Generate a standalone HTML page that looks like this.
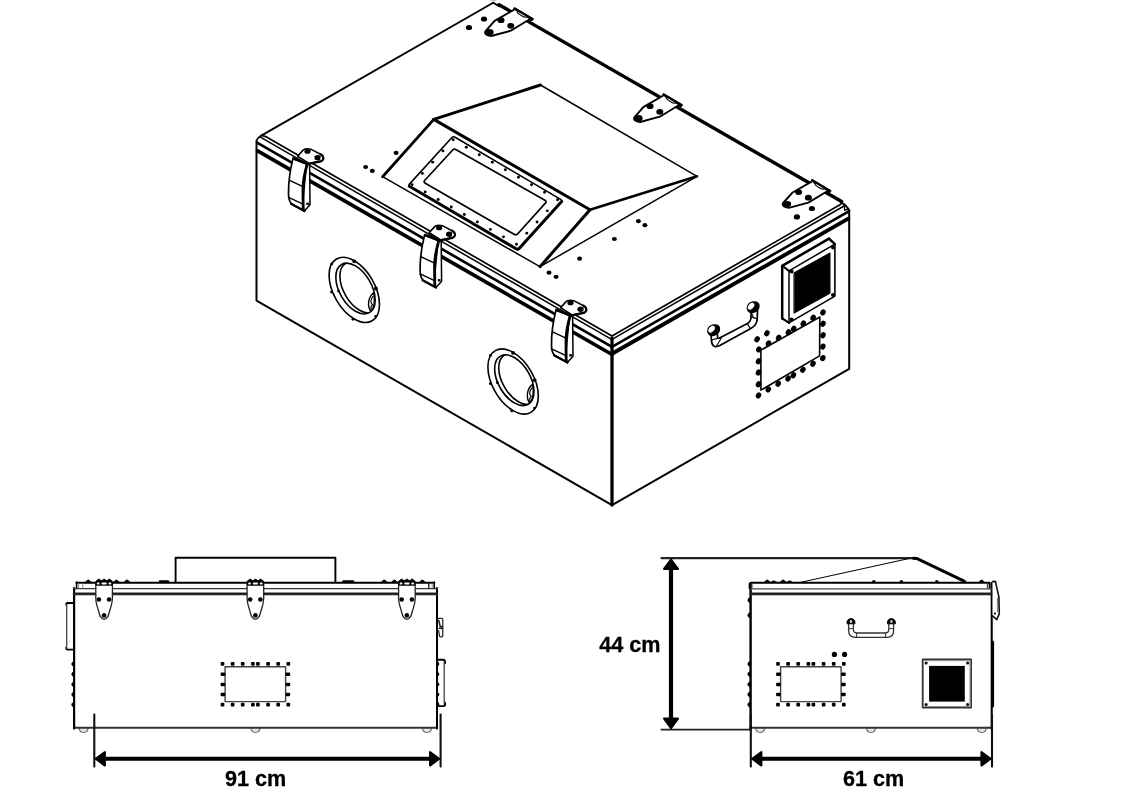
<!DOCTYPE html>
<html lang="en">
<head>
<meta charset="utf-8">
<title>Enclosure dimensions</title>
<style>
html,body{margin:0;padding:0;background:#fff;}
body{width:1134px;height:800px;overflow:hidden;position:relative;}
svg{position:absolute;left:0;top:0;display:block;}
svg text{font-family:"Liberation Sans","DejaVu Sans",sans-serif;font-weight:bold;fill:#000;stroke:#000;stroke-width:0.3px;stroke-linejoin:round;}
</style>
</head>
<body>
<svg width="1134" height="800" viewBox="0 0 1134 800" stroke-linecap="round" stroke-linejoin="round" style="filter:grayscale(1)">
<g id="iso">
<rect x="490.4" y="0" width="5.8" height="1.2" fill="#c4c4c4"/>
<path d="M256.5 141 L256.5 300.6 L612 505.1 L849.2 368.9 L849.2 210.3" fill="none" stroke="#000" stroke-width="2" />
<line x1="612" y1="338" x2="612" y2="505.1" stroke="#000" stroke-width="3.3" />
<path d="M261.7 135.4 L266.5 136.9 L612 335.9 L840.8 204.3" fill="none" stroke="#000" stroke-width="1.7" />
<path d="M261.7 135.4 L493.2 2.8" fill="none" stroke="#000" stroke-width="1.9" />
<path d="M493.2 2.8 L499.5 6.4" fill="none" stroke="#000" stroke-width="1.8" />
<path d="M499 4.7 L841.6 201.5" fill="none" stroke="#000" stroke-width="3.4" />
<line x1="259.5" y1="136.54" x2="612" y2="339.55" stroke="#000" stroke-width="1.5" />
<line x1="257.5" y1="142.92" x2="612" y2="346.95" stroke="#000" stroke-width="2.7" />
<line x1="257.6" y1="150.92" x2="612" y2="354.5" stroke="#000" stroke-width="3.7" />
<line x1="612" y1="339.45" x2="844" y2="206.02" stroke="#000" stroke-width="1.5" />
<line x1="612" y1="346.85" x2="848.3" y2="211.51" stroke="#000" stroke-width="2.6" />
<line x1="612" y1="353.8" x2="848.3" y2="218.65" stroke="#000" stroke-width="3.9" />
<path d="M256.5 141 L257.6 138.6 L262.2 134.6" fill="none" stroke="#000" stroke-width="1.6" />
<path d="M840.8 202.4 Q846.6 204.8 849.2 211" fill="none" stroke="#000" stroke-width="2.2"/>
<path d="M844.2 205.6 L844.6 210.4 L848.4 208.6" fill="none" stroke="#000" stroke-width="1.2" />
<path d="M382.6 176.7 L540 266.7 L697 176.3" fill="none" stroke="#000" stroke-width="1.5" />
<path d="M697 176.3 L540.5 85" fill="none" stroke="#000" stroke-width="1.5" />
<path d="M540.5 85 L433.8 119.4" fill="none" stroke="#000" stroke-width="2.9" />
<path d="M433.8 119.4 L590 209.7" fill="none" stroke="#000" stroke-width="3" />
<path d="M590 209.7 L697 176.3" fill="none" stroke="#000" stroke-width="2.6" />
<path d="M382.6 176.7 L433.8 119.4" fill="none" stroke="#000" stroke-width="2.8" />
<path d="M540 266.7 L590 209.7" fill="none" stroke="#000" stroke-width="3" />
<path d="M410.1 186.61 Q408.2 185.5 409.68 183.87 L451.72 137.73 Q453.2 136.1 455.1 137.22 L560.6 199.38 Q562.5 200.5 561.03 202.13" fill="none" stroke="#000" stroke-width="1.6"/>
<path d="M409.34 186.17 L516 248.79 Q517.9 249.9 519.37 248.27 L561.62 201.48" fill="none" stroke="#000" stroke-width="3.0"/>
<path d="M452.47 150.26 Q454.1 148.5 456.19 149.69 L544.91 200.21 Q547 201.4 545.39 203.18 L517.81 233.72 Q516.2 235.5 514.12 234.3 L425.28 183.2 Q423.2 182 424.83 180.24 Z" fill="none" stroke="#000" stroke-width="1.7"/>
<circle cx="453.2" cy="139.7" r="1.45"/>
<circle cx="412.1" cy="184.6" r="1.45"/>
<circle cx="466.25" cy="147.2" r="1.45"/>
<circle cx="425.15" cy="192.06" r="1.45"/>
<circle cx="479.3" cy="154.7" r="1.45"/>
<circle cx="438.2" cy="199.53" r="1.45"/>
<circle cx="492.35" cy="162.2" r="1.45"/>
<circle cx="451.25" cy="206.99" r="1.45"/>
<circle cx="505.4" cy="169.7" r="1.45"/>
<circle cx="464.3" cy="214.45" r="1.45"/>
<circle cx="518.45" cy="177.2" r="1.45"/>
<circle cx="477.35" cy="221.91" r="1.45"/>
<circle cx="531.5" cy="184.7" r="1.45"/>
<circle cx="490.4" cy="229.38" r="1.45"/>
<circle cx="544.55" cy="192.2" r="1.45"/>
<circle cx="503.45" cy="236.84" r="1.45"/>
<circle cx="557.6" cy="199.7" r="1.45"/>
<circle cx="516.5" cy="244.3" r="1.45"/>
<circle cx="442.93" cy="150.92" r="1.45"/>
<circle cx="547.33" cy="210.85" r="1.45"/>
<circle cx="432.65" cy="162.15" r="1.45"/>
<circle cx="537.05" cy="222" r="1.45"/>
<circle cx="422.38" cy="173.38" r="1.45"/>
<circle cx="526.77" cy="233.15" r="1.45"/>
<ellipse cx="396.1" cy="152.9" rx="2.5" ry="2.1"/>
<ellipse cx="365.6" cy="167" rx="2.5" ry="2.1"/>
<ellipse cx="372.3" cy="170.9" rx="2.5" ry="2.1"/>
<ellipse cx="638.4" cy="221.2" rx="2.5" ry="2.1"/>
<ellipse cx="644.9" cy="225.2" rx="2.5" ry="2.1"/>
<ellipse cx="614.4" cy="239" rx="2.5" ry="2.1"/>
<ellipse cx="579.6" cy="258.7" rx="2.5" ry="2.1"/>
<ellipse cx="549" cy="272.7" rx="2.5" ry="2.1"/>
<ellipse cx="556.1" cy="276.8" rx="2.5" ry="2.1"/>
<ellipse cx="469" cy="27.5" rx="3.1" ry="2.6"/>
<ellipse cx="484" cy="19" rx="3.1" ry="2.6"/>
<ellipse cx="811.9" cy="208.5" rx="3.1" ry="2.6"/>
<ellipse cx="796.9" cy="216.9" rx="3.1" ry="2.6"/>
<path d="M514 9.7 L494.6 20.9 L486 30.6 C483.6 33.4 486.5 35.6 491.2 36 L510.8 30.7 L528.8 19.8 L532.6 19.2 L514.6 8.4 Z" fill="#fff" stroke="#000" stroke-width="1.9"/>
<path d="M516 10.6 L529.6 18.6" fill="none" stroke="#000" stroke-width="1.2" />
<ellipse cx="521.9" cy="14.4" rx="5.2" ry="1.3" fill="#fff" stroke="#000" stroke-width="1.1" transform="rotate(30 521.9 14.4)"/>
<path d="M514.6 8.4 L532.6 19" fill="none" stroke="#000" stroke-width="2.3" />
<circle cx="531.6" cy="19.6" r="1.5"/>
<ellipse cx="501" cy="20.2" rx="3.5" ry="2.9"/>
<ellipse cx="510.8" cy="25.8" rx="3.5" ry="2.9"/>
<ellipse cx="489.7" cy="32.2" rx="3.9" ry="3.1"/>
<path d="M663 95.7 L643.6 106.9 L635 116.6 C632.6 119.4 635.5 121.6 640.2 122 L659.8 116.7 L677.8 105.8 L681.6 105.2 L663.6 94.4 Z" fill="#fff" stroke="#000" stroke-width="1.9"/>
<path d="M665 96.6 L678.6 104.6" fill="none" stroke="#000" stroke-width="1.2" />
<ellipse cx="670.9" cy="100.4" rx="5.2" ry="1.3" fill="#fff" stroke="#000" stroke-width="1.1" transform="rotate(30 670.9 100.4)"/>
<path d="M663.6 94.4 L681.6 105" fill="none" stroke="#000" stroke-width="2.3" />
<circle cx="680.6" cy="105.6" r="1.5"/>
<ellipse cx="650" cy="106.2" rx="3.5" ry="2.9"/>
<ellipse cx="659.8" cy="111.8" rx="3.5" ry="2.9"/>
<ellipse cx="638.7" cy="118.2" rx="3.9" ry="3.1"/>
<path d="M811.6 181.6 L792.2 192.8 L783.6 202.5 C781.2 205.3 784.1 207.5 788.8 207.9 L808.4 202.6 L826.4 191.7 L830.2 191.1 L812.2 180.3 Z" fill="#fff" stroke="#000" stroke-width="1.9"/>
<path d="M813.6 182.5 L827.2 190.5" fill="none" stroke="#000" stroke-width="1.2" />
<ellipse cx="819.5" cy="186.3" rx="5.2" ry="1.3" fill="#fff" stroke="#000" stroke-width="1.1" transform="rotate(30 819.5 186.3)"/>
<path d="M812.2 180.3 L830.2 190.9" fill="none" stroke="#000" stroke-width="2.3" />
<circle cx="829.2" cy="191.5" r="1.5"/>
<ellipse cx="798.6" cy="192.1" rx="3.5" ry="2.9"/>
<ellipse cx="808.4" cy="197.7" rx="3.5" ry="2.9"/>
<ellipse cx="787.3" cy="204.1" rx="3.9" ry="3.1"/>
<path d="M297.6 156.2 L302.6 150.6 C304.2 148.6 307 148 311.6 149.6 L320.6 154.2 C324 156 324.6 159.8 320.6 161.4 L309.4 163.6 Z " fill="#fff" stroke="#000" stroke-width="1.6"/>
<path d="M320.6 154.2 C324 156 324.6 159.8 320.6 161.4 L309.4 163.6 " fill="none" stroke="#000" stroke-width="2.2"/>
<ellipse cx="307.5" cy="151.4" rx="3.1" ry="2.3"/>
<ellipse cx="317.7" cy="157.7" rx="3.3" ry="2.7"/>
<ellipse cx="321.2" cy="158.2" rx="0.7" ry="1.5" fill="#fff"/>
<path d="M306.6 163.6 L309.6 164.6 L310 204.8 L304.4 211 L302.4 206 Z " fill="#fff" stroke="#000" stroke-width="1.5"/>
<path d="M293 158.6 L306.9 164.2 C304.4 174 302.9 182 303 190 L303.2 208.2 L304.4 211 L291.6 204 C289 201 288.5 198 288.5 194 C288.4 182 290 170 293 158.6 Z " fill="#fff" stroke="#000" stroke-width="1.7"/>
<path d="M307.2 164.2 C304.4 174 302.9 182 303 190 L303.2 208.2 " fill="none" stroke="#000" stroke-width="2.8"/>
<path d="M293.4 158.4 L308.6 164.2 " fill="none" stroke="#000" stroke-width="2.6"/>
<path d="M289.6 180.3 L302.4 186.4 " fill="none" stroke="#000" stroke-width="1.4"/>
<path d="M288.6 197.4 L302.4 203.8 " fill="none" stroke="#000" stroke-width="1.4"/>
<path d="M291 203.8 L304.4 211 " fill="none" stroke="#000" stroke-width="2.2"/>
<rect x="306.3" y="202.6" width="2.6" height="2.4"/>
<path d="M429.2 232.7 L434.2 227.1 C435.8 225.1 438.6 224.5 443.2 226.1 L452.2 230.7 C455.6 232.5 456.2 236.3 452.2 237.9 L441 240.1 Z " fill="#fff" stroke="#000" stroke-width="1.6"/>
<path d="M452.2 230.7 C455.6 232.5 456.2 236.3 452.2 237.9 L441 240.1 " fill="none" stroke="#000" stroke-width="2.2"/>
<ellipse cx="439.1" cy="227.9" rx="3.1" ry="2.3"/>
<ellipse cx="449.3" cy="234.2" rx="3.3" ry="2.7"/>
<ellipse cx="452.8" cy="234.7" rx="0.7" ry="1.5" fill="#fff"/>
<path d="M438.2 240.1 L441.2 241.1 L441.6 281.3 L436 287.5 L434 282.5 Z " fill="#fff" stroke="#000" stroke-width="1.5"/>
<path d="M424.6 235.1 L438.5 240.7 C436 250.5 434.5 258.5 434.6 266.5 L434.8 284.7 L436 287.5 L423.2 280.5 C420.6 277.5 420.1 274.5 420.1 270.5 C420 258.5 421.6 246.5 424.6 235.1 Z " fill="#fff" stroke="#000" stroke-width="1.7"/>
<path d="M438.8 240.7 C436 250.5 434.5 258.5 434.6 266.5 L434.8 284.7 " fill="none" stroke="#000" stroke-width="2.8"/>
<path d="M425 234.9 L440.2 240.7 " fill="none" stroke="#000" stroke-width="2.6"/>
<path d="M421.2 256.8 L434 262.9 " fill="none" stroke="#000" stroke-width="1.4"/>
<path d="M420.2 273.9 L434 280.3 " fill="none" stroke="#000" stroke-width="1.4"/>
<path d="M422.6 280.3 L436 287.5 " fill="none" stroke="#000" stroke-width="2.2"/>
<rect x="437.9" y="279.1" width="2.6" height="2.4"/>
<path d="M560.6 307.7 L565.6 302.1 C567.2 300.1 570 299.5 574.6 301.1 L583.6 305.7 C587 307.5 587.6 311.3 583.6 312.9 L572.4 315.1 Z " fill="#fff" stroke="#000" stroke-width="1.6"/>
<path d="M583.6 305.7 C587 307.5 587.6 311.3 583.6 312.9 L572.4 315.1 " fill="none" stroke="#000" stroke-width="2.2"/>
<ellipse cx="570.5" cy="302.9" rx="3.1" ry="2.3"/>
<ellipse cx="580.7" cy="309.2" rx="3.3" ry="2.7"/>
<ellipse cx="584.2" cy="309.7" rx="0.7" ry="1.5" fill="#fff"/>
<path d="M569.6 315.1 L572.6 316.1 L573 356.3 L567.4 362.5 L565.4 357.5 Z " fill="#fff" stroke="#000" stroke-width="1.5"/>
<path d="M556 310.1 L569.9 315.7 C567.4 325.5 565.9 333.5 566 341.5 L566.2 359.7 L567.4 362.5 L554.6 355.5 C552 352.5 551.5 349.5 551.5 345.5 C551.4 333.5 553 321.5 556 310.1 Z " fill="#fff" stroke="#000" stroke-width="1.7"/>
<path d="M570.2 315.7 C567.4 325.5 565.9 333.5 566 341.5 L566.2 359.7 " fill="none" stroke="#000" stroke-width="2.8"/>
<path d="M556.4 309.9 L571.6 315.7 " fill="none" stroke="#000" stroke-width="2.6"/>
<path d="M552.6 331.8 L565.4 337.9 " fill="none" stroke="#000" stroke-width="1.4"/>
<path d="M551.6 348.9 L565.4 355.3 " fill="none" stroke="#000" stroke-width="1.4"/>
<path d="M554 355.3 L567.4 362.5 " fill="none" stroke="#000" stroke-width="2.2"/>
<rect x="569.3" y="354.1" width="2.6" height="2.4"/>
<ellipse cx="354.3" cy="289.9" rx="35.64" ry="20.58" transform="rotate(60 354.3 289.9)" fill="none" stroke="#000" stroke-width="1.6" />
<ellipse cx="355.5" cy="288.6" rx="27.8" ry="16.05" transform="rotate(60 355.5 288.6)" fill="none" stroke="#000" stroke-width="1.6" />
<clipPath id="pc354"><ellipse cx="355.5" cy="288.6" rx="27.8" ry="16.05" transform="rotate(60 355.5 288.6)"/></clipPath>
<g clip-path="url(#pc354)"><ellipse cx="359.6" cy="287.5" rx="27.8" ry="16.05" transform="rotate(60 359.6 287.5)" fill="none" stroke="#000" stroke-width="1.6" /></g>
<path d="M373.7 292.8 C367.7 297.3 367.3 306.3 370.7 311.3 C374.3 308.3 375.3 300.3 373.7 292.8 Z" fill="none" stroke="#000" stroke-width="1.4"/>
<path d="M373.1 296.3 C370.5 299.3 370.1 302.8 372.5 304.8 C370.5 306.3 370.7 308.3 371.3 310.3" fill="none" stroke="#000" stroke-width="1.2"/>
<circle cx="354.3" cy="261.3" r="1.9"/>
<circle cx="375.9" cy="288.5" r="1.9"/>
<circle cx="331.7" cy="263.9" r="1.4"/>
<circle cx="331.5" cy="292.1" r="1.4"/>
<circle cx="338.5" cy="291.1" r="1.4"/>
<circle cx="375.7" cy="316.5" r="1.4"/>
<circle cx="352.9" cy="319.3" r="1.4"/>
<ellipse cx="513.1" cy="381.5" rx="35.64" ry="20.58" transform="rotate(60 513.1 381.5)" fill="none" stroke="#000" stroke-width="1.6" />
<ellipse cx="514.3" cy="380.2" rx="27.8" ry="16.05" transform="rotate(60 514.3 380.2)" fill="none" stroke="#000" stroke-width="1.6" />
<clipPath id="pc513"><ellipse cx="514.3" cy="380.2" rx="27.8" ry="16.05" transform="rotate(60 514.3 380.2)"/></clipPath>
<g clip-path="url(#pc513)"><ellipse cx="518.4" cy="379.1" rx="27.8" ry="16.05" transform="rotate(60 518.4 379.1)" fill="none" stroke="#000" stroke-width="1.6" /></g>
<path d="M532.5 384.4 C526.5 388.9 526.1 397.9 529.5 402.9 C533.1 399.9 534.1 391.9 532.5 384.4 Z" fill="none" stroke="#000" stroke-width="1.4"/>
<path d="M531.9 387.9 C529.3 390.9 528.9 394.4 531.3 396.4 C529.3 397.9 529.5 399.9 530.1 401.9" fill="none" stroke="#000" stroke-width="1.2"/>
<circle cx="513.1" cy="352.9" r="1.9"/>
<circle cx="534.7" cy="380.1" r="1.9"/>
<circle cx="490.5" cy="355.5" r="1.4"/>
<circle cx="490.3" cy="383.7" r="1.4"/>
<circle cx="497.3" cy="382.7" r="1.4"/>
<circle cx="534.5" cy="408.1" r="1.4"/>
<circle cx="511.7" cy="410.9" r="1.4"/>
<path d="M711.0 334 L711.6 341.6 C712.0 346.2 715.6 347.8 719.8 345.6 L750.8 328.6 C755.0 326.2 757.0 323.2 757.2 319 L757.6 310 L751.2 310 L751.0 317.2 C751.0 320.2 750.0 322.0 747.4 323.4 L719.6 338.0 C718.2 338.8 717.6 338.2 717.6 336.6 L717.4 334 Z" fill="#fff" stroke="#000" stroke-width="1.7"/>
<path d="M712 340 L717.4 338.4 M716.6 345.8 L721.4 338 M747.2 323.6 L750.2 328.4 M751 317 L756.8 318.6 M751 311.6 L753.6 317.6" fill="none" stroke="#000" stroke-width="1.1"/>
<ellipse cx="713.8" cy="330.2" rx="6.2" ry="4.8" transform="rotate(-35 713.8 330.2)" fill="#000" stroke="#000" stroke-width="1.4"/>
<ellipse cx="711.6" cy="329.2" rx="4.6" ry="3.2" transform="rotate(-50 711.6 329.2)" fill="#fff" stroke="#000" stroke-width="1.2"/>
<ellipse cx="753.3" cy="307.2" rx="6.2" ry="4.8" transform="rotate(-35 753.3 307.2)" fill="#000" stroke="#000" stroke-width="1.4"/>
<ellipse cx="751.1" cy="306.2" rx="4.6" ry="3.2" transform="rotate(-50 751.1 306.2)" fill="#fff" stroke="#000" stroke-width="1.2"/>
<path d="M782.2 265.8 L829 238.6 L834.9 244.1 L834.9 296.1 L789 322.9 L782.2 318.4 Z" fill="#fff" stroke="#000" stroke-width="1.6" />
<path d="M782.2 318.4 L782.2 265.8 L829 238.6" fill="none" stroke="#000" stroke-width="2.5" />
<path d="M829 238.6 L834.9 244.1" fill="none" stroke="#000" stroke-width="2.2" />
<path d="M789 322.9 L789 270.9 L834.9 244.1" fill="none" stroke="#000" stroke-width="1.5" />
<path d="M782.2 265.8 L789 270.9" fill="none" stroke="#000" stroke-width="2" />
<path d="M782.2 318.4 L789 322.9" fill="none" stroke="#000" stroke-width="2" />
<path d="M794.3 272.7 L830 252.9 L830 293.3 L794.3 313 Z" fill="#000" stroke="#000" stroke-width="1" />
<circle cx="791.6" cy="271.6" r="2"/>
<circle cx="833" cy="247.6" r="2"/>
<circle cx="833" cy="295" r="2"/>
<circle cx="791.6" cy="319.6" r="2"/>
<path d="M760.9 350.1 L819.8 317 L819.6 355.9 L760.9 390.1 Z" fill="none" stroke="#000" stroke-width="1.6" />
<ellipse cx="758.8" cy="349.4" rx="3.2" ry="2.6" transform="rotate(-60 758.8 349.4)"/>
<ellipse cx="768.5" cy="343.4" rx="3.2" ry="2.6" transform="rotate(-60 768.5 343.4)"/>
<ellipse cx="778.6" cy="337.8" rx="3.2" ry="2.6" transform="rotate(-60 778.6 337.8)"/>
<ellipse cx="788.4" cy="332.2" rx="3.2" ry="2.6" transform="rotate(-60 788.4 332.2)"/>
<ellipse cx="793.7" cy="328.8" rx="3.2" ry="2.6" transform="rotate(-60 793.7 328.8)"/>
<ellipse cx="803.3" cy="323.5" rx="3.2" ry="2.6" transform="rotate(-60 803.3 323.5)"/>
<ellipse cx="813.1" cy="317.7" rx="3.2" ry="2.6" transform="rotate(-60 813.1 317.7)"/>
<ellipse cx="823" cy="312.4" rx="3.2" ry="2.6" transform="rotate(-60 823 312.4)"/>
<ellipse cx="757.1" cy="339.2" rx="3.2" ry="2.6" transform="rotate(-60 757.1 339.2)"/>
<ellipse cx="766.9" cy="333.2" rx="3.2" ry="2.6" transform="rotate(-60 766.9 333.2)"/>
<ellipse cx="823" cy="323.7" rx="3.2" ry="2.6" transform="rotate(-60 823 323.7)"/>
<ellipse cx="823" cy="335.3" rx="3.2" ry="2.6" transform="rotate(-60 823 335.3)"/>
<ellipse cx="822.8" cy="346.6" rx="3.2" ry="2.6" transform="rotate(-60 822.8 346.6)"/>
<ellipse cx="822.8" cy="358.1" rx="3.2" ry="2.6" transform="rotate(-60 822.8 358.1)"/>
<ellipse cx="758.5" cy="361.2" rx="3.2" ry="2.6" transform="rotate(-60 758.5 361.2)"/>
<ellipse cx="758.5" cy="372.5" rx="3.2" ry="2.6" transform="rotate(-60 758.5 372.5)"/>
<ellipse cx="758.5" cy="384.2" rx="3.2" ry="2.6" transform="rotate(-60 758.5 384.2)"/>
<ellipse cx="758.5" cy="395.4" rx="3.2" ry="2.6" transform="rotate(-60 758.5 395.4)"/>
<ellipse cx="768.3" cy="389.4" rx="3.2" ry="2.6" transform="rotate(-60 768.3 389.4)"/>
<ellipse cx="778.2" cy="383.8" rx="3.2" ry="2.6" transform="rotate(-60 778.2 383.8)"/>
<ellipse cx="788.1" cy="378.5" rx="3.2" ry="2.6" transform="rotate(-60 788.1 378.5)"/>
<ellipse cx="793.4" cy="375.2" rx="3.2" ry="2.6" transform="rotate(-60 793.4 375.2)"/>
<ellipse cx="802.9" cy="369.7" rx="3.2" ry="2.6" transform="rotate(-60 802.9 369.7)"/>
<ellipse cx="813" cy="363.7" rx="3.2" ry="2.6" transform="rotate(-60 813 363.7)"/>
</g>
<g id="front">
<path d="M79 727.8 C79.4 734 87.8 734 88.2 727.8" fill="#e6e6e6" stroke="#666" stroke-width="1.1"/>
<path d="M250.9 727.8 C251.3 734 259.7 734 260.1 727.8" fill="#e6e6e6" stroke="#666" stroke-width="1.1"/>
<path d="M422.4 727.8 C422.8 734 431.2 734 431.6 727.8" fill="#e6e6e6" stroke="#666" stroke-width="1.1"/>
<line x1="74" y1="727.8" x2="437.2" y2="727.8" stroke="#333" stroke-width="1.9"/>
<line x1="74.1" y1="588" x2="74.1" y2="728.6" stroke="#000" stroke-width="2.2"/>
<line x1="437" y1="588" x2="437" y2="728.6" stroke="#000" stroke-width="2"/>
<line x1="76.3" y1="582.7" x2="434.4" y2="582.7" stroke="#000" stroke-width="1.9"/>
<line x1="76.6" y1="582" x2="76.6" y2="588.6" stroke="#000" stroke-width="1.6"/>
<line x1="434.2" y1="582" x2="434.2" y2="588.6" stroke="#000" stroke-width="1.6"/>
<line x1="73.4" y1="588.7" x2="437.6" y2="588.7" stroke="#333" stroke-width="1.2"/>
<line x1="74" y1="593.9" x2="437" y2="593.9" stroke="#222" stroke-width="2.7"/>
<line x1="78.6" y1="584" x2="78.6" y2="588" stroke="#888" stroke-width="0.9"/>
<line x1="82.8" y1="584" x2="82.8" y2="588" stroke="#888" stroke-width="0.9"/>
<line x1="428.8" y1="584" x2="428.8" y2="588" stroke="#222" stroke-width="1.4"/>
<line x1="432.2" y1="584" x2="432.2" y2="588" stroke="#888" stroke-width="0.9"/>
<path d="M175.6 582 L175.6 557.8 L335.4 557.8 L335.4 582" fill="none" stroke="#000" stroke-width="1.9" />
<path d="M85.6 581.9 L87.6 580.1 L88.8 580.1 L90.8 581.9 Z" stroke="#000" stroke-width="0.8"/>
<path d="M113.8 581.9 L115.8 580.1 L117 580.1 L119 581.9 Z" stroke="#000" stroke-width="0.8"/>
<path d="M124.4 581.9 L126.4 580.1 L127.6 580.1 L129.6 581.9 Z" stroke="#000" stroke-width="0.8"/>
<path d="M381.6 581.9 L383.6 580.1 L384.8 580.1 L386.8 581.9 Z" stroke="#000" stroke-width="0.8"/>
<path d="M391.8 581.9 L393.8 580.1 L395 580.1 L397 581.9 Z" stroke="#000" stroke-width="0.8"/>
<path d="M419.8 581.9 L421.8 580.1 L423 580.1 L425 581.9 Z" stroke="#000" stroke-width="0.8"/>
<line x1="160" y1="581.4" x2="168" y2="581.4" stroke="#000" stroke-width="2.4"/>
<line x1="343.5" y1="581.4" x2="353" y2="581.4" stroke="#000" stroke-width="2.4"/>
<path d="M95.8 582 L95.8 598 Q95.9 602 96.9 605.4 L100.1 616.2 Q104.1 622.6 108.1 616.2 L111.3 605.4 Q112.3 602 112.4 598 L112.4 582 Z" fill="#fff" stroke="#222" stroke-width="1.3"/>
<rect x="95.5" y="580.6" width="17.2" height="5.2" rx="1.6" fill="#000"/>
<rect x="96.9" y="582.4" width="2.6" height="2.2" rx="0.8" fill="#fff"/>
<rect x="101.5" y="582.4" width="5.2" height="2.2" rx="0.8" fill="#fff"/>
<rect x="108.5" y="582.4" width="2.8" height="2.2" rx="0.8" fill="#fff"/>
<path d="M96.3 581 L98.3 579.2 L99.5 579.2 L101.5 581 Z" stroke="#000" stroke-width="0.8"/>
<path d="M101.5 581 L103.5 579.2 L104.7 579.2 L106.7 581 Z" stroke="#000" stroke-width="0.8"/>
<path d="M106.7 581 L108.7 579.2 L109.9 579.2 L111.9 581 Z" stroke="#000" stroke-width="0.8"/>
<circle cx="98.9" cy="599.5" r="2.3"/>
<circle cx="109.1" cy="599.5" r="2.3"/>
<circle cx="104.1" cy="615.4" r="2.3"/>
<path d="M247.1 582 L247.1 598 Q247.2 602 248.2 605.4 L251.4 616.2 Q255.4 622.6 259.4 616.2 L262.6 605.4 Q263.6 602 263.7 598 L263.7 582 Z" fill="#fff" stroke="#222" stroke-width="1.3"/>
<rect x="246.8" y="580.6" width="17.2" height="5.2" rx="1.6" fill="#000"/>
<rect x="248.2" y="582.4" width="2.6" height="2.2" rx="0.8" fill="#fff"/>
<rect x="252.8" y="582.4" width="5.2" height="2.2" rx="0.8" fill="#fff"/>
<rect x="259.8" y="582.4" width="2.8" height="2.2" rx="0.8" fill="#fff"/>
<path d="M247.6 581 L249.6 579.2 L250.8 579.2 L252.8 581 Z" stroke="#000" stroke-width="0.8"/>
<path d="M252.8 581 L254.8 579.2 L256 579.2 L258 581 Z" stroke="#000" stroke-width="0.8"/>
<path d="M258 581 L260 579.2 L261.2 579.2 L263.2 581 Z" stroke="#000" stroke-width="0.8"/>
<circle cx="250.2" cy="599.5" r="2.3"/>
<circle cx="260.4" cy="599.5" r="2.3"/>
<circle cx="255.4" cy="615.4" r="2.3"/>
<path d="M398.6 582 L398.6 598 Q398.7 602 399.7 605.4 L402.9 616.2 Q406.9 622.6 410.9 616.2 L414.1 605.4 Q415.1 602 415.2 598 L415.2 582 Z" fill="#fff" stroke="#222" stroke-width="1.3"/>
<rect x="398.3" y="580.6" width="17.2" height="5.2" rx="1.6" fill="#000"/>
<rect x="399.7" y="582.4" width="2.6" height="2.2" rx="0.8" fill="#fff"/>
<rect x="404.3" y="582.4" width="5.2" height="2.2" rx="0.8" fill="#fff"/>
<rect x="411.3" y="582.4" width="2.8" height="2.2" rx="0.8" fill="#fff"/>
<path d="M399.1 581 L401.1 579.2 L402.3 579.2 L404.3 581 Z" stroke="#000" stroke-width="0.8"/>
<path d="M404.3 581 L406.3 579.2 L407.5 579.2 L409.5 581 Z" stroke="#000" stroke-width="0.8"/>
<path d="M409.5 581 L411.5 579.2 L412.7 579.2 L414.7 581 Z" stroke="#000" stroke-width="0.8"/>
<circle cx="401.7" cy="599.5" r="2.3"/>
<circle cx="411.9" cy="599.5" r="2.3"/>
<circle cx="406.9" cy="615.4" r="2.3"/>
<rect x="225.1" y="666.8" width="60.5" height="34.8" fill="none" stroke="#444" stroke-width="1.4"/>
<rect x="220.65" y="662.05" width="3.7" height="3.7" rx="1.0"/>
<rect x="220.65" y="702.85" width="3.7" height="3.7" rx="1.0"/>
<rect x="230.75" y="662.05" width="3.7" height="3.7" rx="1.0"/>
<rect x="230.75" y="702.85" width="3.7" height="3.7" rx="1.0"/>
<rect x="240.85" y="662.05" width="3.7" height="3.7" rx="1.0"/>
<rect x="240.85" y="702.85" width="3.7" height="3.7" rx="1.0"/>
<rect x="251.05" y="662.05" width="3.7" height="3.7" rx="1.0"/>
<rect x="251.05" y="702.85" width="3.7" height="3.7" rx="1.0"/>
<rect x="256.05" y="662.05" width="3.7" height="3.7" rx="1.0"/>
<rect x="256.05" y="702.85" width="3.7" height="3.7" rx="1.0"/>
<rect x="266.25" y="662.05" width="3.7" height="3.7" rx="1.0"/>
<rect x="266.25" y="702.85" width="3.7" height="3.7" rx="1.0"/>
<rect x="276.35" y="662.05" width="3.7" height="3.7" rx="1.0"/>
<rect x="276.35" y="702.85" width="3.7" height="3.7" rx="1.0"/>
<rect x="286.45" y="662.05" width="3.7" height="3.7" rx="1.0"/>
<rect x="286.45" y="702.85" width="3.7" height="3.7" rx="1.0"/>
<rect x="220.6" y="672.55" width="4.6" height="3.5" rx="1.0"/>
<rect x="285.6" y="672.55" width="4.6" height="3.5" rx="1.0"/>
<rect x="220.6" y="682.65" width="4.6" height="3.5" rx="1.0"/>
<rect x="285.6" y="682.65" width="4.6" height="3.5" rx="1.0"/>
<rect x="220.6" y="692.75" width="4.6" height="3.5" rx="1.0"/>
<rect x="285.6" y="692.75" width="4.6" height="3.5" rx="1.0"/>
<path d="M73.4 603 L67.4 603 Q66.2 603 66.2 604.8 M66.2 647.8 Q66.2 649.6 67.6 649.6 L73.4 649.6" fill="none" stroke="#000" stroke-width="1.9"/>
<line x1="66.7" y1="604.5" x2="66.7" y2="648" stroke="#444" stroke-width="1.3"/>
<path d="M73.6 661.8 C71.2 662 71.2 666 73.6 666.2 Z" stroke="#000" stroke-width="1"/>
<path d="M73.6 672 C71.2 672.2 71.2 676.2 73.6 676.4 Z" stroke="#000" stroke-width="1"/>
<path d="M73.6 682.2 C71.2 682.4 71.2 686.4 73.6 686.6 Z" stroke="#000" stroke-width="1"/>
<path d="M73.6 692.3 C71.2 692.5 71.2 696.5 73.6 696.7 Z" stroke="#000" stroke-width="1"/>
<path d="M73.6 702.4 C71.2 702.6 71.2 706.6 73.6 706.8 Z" stroke="#000" stroke-width="1"/>
<path d="M438 618.4 L441.6 618.4 Q442.8 618.4 442.8 620 L442.8 635 Q442.8 637 441 637 L439.6 636.4 L438.6 630.6" fill="#fff" stroke="#222" stroke-width="1.2"/>
<path d="M438.8 620.6 L440.2 626.4 L442.4 626.6 M439.2 628.2 L442.4 628.4" fill="none" stroke="#222" stroke-width="1.6"/>
<path d="M437.6 659.7 L443.6 659.7 Q445.6 660.6 444.9 663.4 M444.9 702.4 Q445.8 705.4 443.6 706.1 L437.6 706.1" fill="none" stroke="#000" stroke-width="1.9"/>
<line x1="444.2" y1="662.5" x2="444.2" y2="703.5" stroke="#444" stroke-width="1.3"/>
<path d="M437.8 662 Q440.4 664 437.8 666 Z" stroke="#000" stroke-width="1"/>
<path d="M437.8 672.2 Q440.4 674.2 437.8 676.2 Z" stroke="#000" stroke-width="1"/>
<path d="M437.8 682.4 Q440.4 684.4 437.8 686.4 Z" stroke="#000" stroke-width="1"/>
<path d="M437.8 692.5 Q440.4 694.5 437.8 696.5 Z" stroke="#000" stroke-width="1"/>
<path d="M437.8 702.2 Q440.4 704.2 437.8 706.2 Z" stroke="#000" stroke-width="1"/>
<line x1="94.3" y1="714.6" x2="94.3" y2="766.6" stroke="#111" stroke-width="2.1"/>
<line x1="440.6" y1="714.6" x2="440.6" y2="766.6" stroke="#111" stroke-width="2.1"/>
<line x1="102.3" y1="758.8" x2="432.6" y2="758.8" stroke="#000" stroke-width="4"/>
<path d="M95.6 758.8 L104.9 752 L104.9 765.6 Z" stroke="#000" stroke-width="2" stroke-linejoin="round"/>
<path d="M439.3 758.8 L430 752 L430 765.6 Z" stroke="#000" stroke-width="2" stroke-linejoin="round"/>
<text x="255.6" y="785.9" font-size="21.6" text-anchor="middle">91 cm</text>
</g>
<g id="side">
<path d="M755.6 727.8 C756 734 764.4 734 764.8 727.8" fill="#e6e6e6" stroke="#666" stroke-width="1.1"/>
<path d="M866.4 727.8 C866.8 734 875.2 734 875.6 727.8" fill="#e6e6e6" stroke="#666" stroke-width="1.1"/>
<path d="M977.2 727.8 C977.6 734 986 734 986.4 727.8" fill="#e6e6e6" stroke="#666" stroke-width="1.1"/>
<line x1="661.4" y1="558.1" x2="913" y2="558.1" stroke="#222" stroke-width="2.1"/>
<line x1="661.4" y1="729.6" x2="751" y2="729.6" stroke="#222" stroke-width="1.9"/>
<path d="M800.4 582.4 L909.6 558.4" fill="none" stroke="#000" stroke-width="1" />
<path d="M913.4 558.2 L916.6 558.4 L963.6 580.8" fill="none" stroke="#000" stroke-width="3" />
<line x1="750" y1="727.8" x2="992" y2="727.8" stroke="#333" stroke-width="1.9"/>
<line x1="750.6" y1="584" x2="750.6" y2="729" stroke="#000" stroke-width="2.4"/>
<line x1="991.7" y1="583" x2="991.7" y2="729" stroke="#000" stroke-width="2.1"/>
<path d="M749.6 588.4 L749.6 584.4 Q749.6 582.7 751.6 582.7 L989.6 582.7 L989.6 588.4" fill="none" stroke="#000" stroke-width="1.9"/>
<line x1="750" y1="588.8" x2="992.4" y2="588.8" stroke="#444" stroke-width="1.2"/>
<line x1="750.6" y1="593.9" x2="991.6" y2="593.9" stroke="#222" stroke-width="2.7"/>
<line x1="752.6" y1="584" x2="752.6" y2="588" stroke="#888" stroke-width="0.9"/>
<line x1="987.4" y1="584" x2="987.4" y2="588" stroke="#444" stroke-width="1.2"/>
<path d="M764.6 581.9 L766.6 580.1 L767.8 580.1 L769.8 581.9 Z" stroke="#000" stroke-width="0.8"/>
<path d="M780.5 581.9 L782.5 580.1 L783.7 580.1 L785.7 581.9 Z" stroke="#000" stroke-width="0.8"/>
<path d="M771.5 581.9 L773.2 580.9 L774.4 580.9 L776.1 581.9 Z" stroke="#000" stroke-width="0.8"/>
<path d="M787.4 581.9 L789.1 580.9 L790.3 580.9 L792 581.9 Z" stroke="#000" stroke-width="0.8"/>
<path d="M979 581.9 L981 580.1 L982.2 580.1 L984.2 581.9 Z" stroke="#000" stroke-width="0.8"/>
<circle cx="873.8" cy="581.6" r="1.7"/>
<circle cx="901.4" cy="581.6" r="1.7"/>
<circle cx="936.8" cy="581.6" r="1.7"/>
<circle cx="964.5" cy="581.6" r="1.7"/>
<path d="M750 597.8 C747.2 598 747.2 602.4 750 602.6 Z" stroke="#000" stroke-width="1"/>
<path d="M750 612.9 C747.2 613.1 747.2 617.5 750 617.7 Z" stroke="#000" stroke-width="1"/>
<path d="M750 661.6 C747.2 661.8 747.2 666.2 750 666.4 Z" stroke="#000" stroke-width="1"/>
<path d="M750 671.8 C747.2 672 747.2 676.4 750 676.6 Z" stroke="#000" stroke-width="1"/>
<path d="M750 682 C747.2 682.2 747.2 686.6 750 686.8 Z" stroke="#000" stroke-width="1"/>
<path d="M750 692.1 C747.2 692.3 747.2 696.7 750 696.9 Z" stroke="#000" stroke-width="1"/>
<path d="M750 702.2 C747.2 702.4 747.2 706.8 750 707 Z" stroke="#000" stroke-width="1"/>
<path d="M992.6 581.6 L995.4 581.4 L998.9 597.2 L999.3 613.8 L996.7 619.6 L992.6 615.8" fill="#fff" stroke="#111" stroke-width="1.6"/>
<line x1="997.4" y1="598" x2="997.4" y2="612" stroke="#666" stroke-width="0.9"/>
<circle cx="994.9" cy="613.6" r="1.1"/>
<line x1="992.6" y1="642" x2="992.6" y2="706" stroke="#000" stroke-width="3"/>
<path d="M848.6 623 L848.6 630.6 Q848.6 637.4 855.4 637.4 L887.2 637.4 Q893.6 637.4 893.6 630.6 L893.6 623 L888.8 623 L888.8 629.6 Q888.8 633 885.4 633 L856.6 633 Q853.4 633 853.4 629.6 L853.4 623 Z" fill="#fff" stroke="#333" stroke-width="1.3"/>
<path d="M856.6 633 L856.6 637.4 M885.6 633 L885.6 637.4 M848.6 628.6 L853.4 628.6 M888.8 628.6 L893.6 628.6" fill="none" stroke="#333" stroke-width="1"/>
<path d="M847 623.4 Q846.6 619 851 618.6 Q855.4 619 855 623.4 Z" stroke="#000" stroke-width="1"/>
<rect x="850.1" y="620.2" width="1.8" height="2.6" fill="#fff"/>
<path d="M887.4 623.4 Q887 619 891.4 618.6 Q895.8 619 895.4 623.4 Z" stroke="#000" stroke-width="1"/>
<rect x="890.5" y="620.2" width="1.8" height="2.6" fill="#fff"/>
<circle cx="834.4" cy="654.4" r="2.6"/>
<circle cx="844.6" cy="654.4" r="2.6"/>
<rect x="780.6" y="666.8" width="60.5" height="34.8" fill="none" stroke="#444" stroke-width="1.4"/>
<rect x="776.15" y="662.05" width="3.7" height="3.7" rx="1.0"/>
<rect x="776.15" y="702.85" width="3.7" height="3.7" rx="1.0"/>
<rect x="786.25" y="662.05" width="3.7" height="3.7" rx="1.0"/>
<rect x="786.25" y="702.85" width="3.7" height="3.7" rx="1.0"/>
<rect x="796.35" y="662.05" width="3.7" height="3.7" rx="1.0"/>
<rect x="796.35" y="702.85" width="3.7" height="3.7" rx="1.0"/>
<rect x="806.55" y="662.05" width="3.7" height="3.7" rx="1.0"/>
<rect x="806.55" y="702.85" width="3.7" height="3.7" rx="1.0"/>
<rect x="811.55" y="662.05" width="3.7" height="3.7" rx="1.0"/>
<rect x="811.55" y="702.85" width="3.7" height="3.7" rx="1.0"/>
<rect x="821.75" y="662.05" width="3.7" height="3.7" rx="1.0"/>
<rect x="821.75" y="702.85" width="3.7" height="3.7" rx="1.0"/>
<rect x="831.85" y="662.05" width="3.7" height="3.7" rx="1.0"/>
<rect x="831.85" y="702.85" width="3.7" height="3.7" rx="1.0"/>
<rect x="841.95" y="662.05" width="3.7" height="3.7" rx="1.0"/>
<rect x="841.95" y="702.85" width="3.7" height="3.7" rx="1.0"/>
<rect x="776.1" y="672.55" width="4.6" height="3.5" rx="1.0"/>
<rect x="841.1" y="672.55" width="4.6" height="3.5" rx="1.0"/>
<rect x="776.1" y="682.65" width="4.6" height="3.5" rx="1.0"/>
<rect x="841.1" y="682.65" width="4.6" height="3.5" rx="1.0"/>
<rect x="776.1" y="692.75" width="4.6" height="3.5" rx="1.0"/>
<rect x="841.1" y="692.75" width="4.6" height="3.5" rx="1.0"/>
<rect x="922.6" y="659.4" width="48.6" height="48.4" fill="#fff" stroke="#333" stroke-width="1.6"/>
<rect x="923.9" y="660.7" width="46" height="45.8" fill="none" stroke="#777" stroke-width="0.8"/>
<rect x="929.1" y="665.9" width="35.7" height="35.7" fill="#000"/>
<circle cx="926.1" cy="663" r="1.5"/>
<circle cx="967.6" cy="662.9" r="1.5"/>
<circle cx="926.1" cy="704.5" r="1.5"/>
<circle cx="967.6" cy="704.5" r="1.5"/>
<line x1="671" y1="566" x2="671" y2="722" stroke="#000" stroke-width="4.2"/>
<path d="M671 559.6 L677.9 569.0 L664.1 569.0 Z" stroke="#000" stroke-width="2.2" stroke-linejoin="round"/>
<path d="M671 728.1 L677.9 718.7 L664.1 718.7 Z" stroke="#000" stroke-width="2.2" stroke-linejoin="round"/>
<text x="629.9" y="651.7" font-size="21.6" text-anchor="middle">44 cm</text>
<line x1="750.8" y1="714.6" x2="750.8" y2="766.6" stroke="#111" stroke-width="2.1"/>
<line x1="992" y1="714.6" x2="992" y2="766.6" stroke="#111" stroke-width="2.1"/>
<line x1="758.8" y1="758.8" x2="984" y2="758.8" stroke="#000" stroke-width="4"/>
<path d="M752.1 758.8 L761.4 752 L761.4 765.6 Z" stroke="#000" stroke-width="2" stroke-linejoin="round"/>
<path d="M990.7 758.8 L981.4 752 L981.4 765.6 Z" stroke="#000" stroke-width="2" stroke-linejoin="round"/>
<text x="873.6" y="785.9" font-size="21.6" text-anchor="middle">61 cm</text>
</g>
</svg>
</body>
</html>
